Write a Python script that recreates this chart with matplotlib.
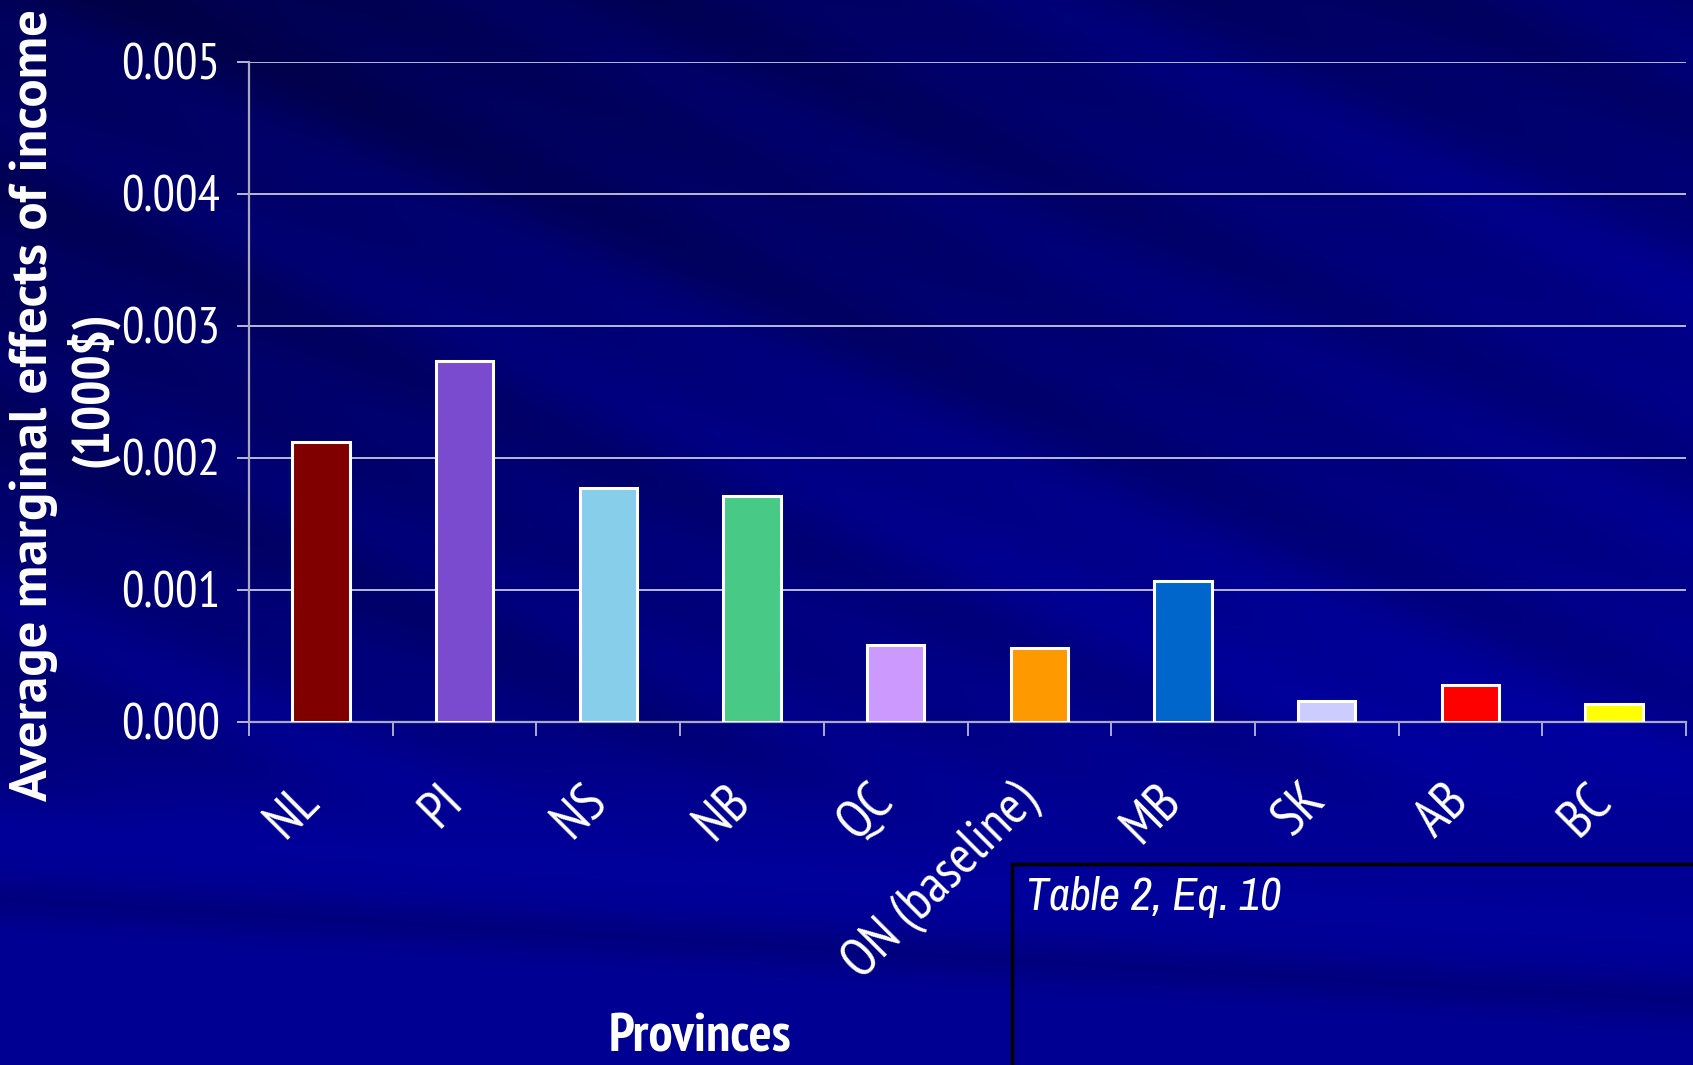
"""
Average marginal effects of income by province (bar chart on a slide-style background)
Output: out.png
"""

import numpy as np
import matplotlib
matplotlib.use('Agg')
import matplotlib.pyplot as plt
from matplotlib import font_manager
from matplotlib.patches import Rectangle

# ── Data ──────────────────────────────────────────────────────────────────────
provinces = ["NL", "PI", "NS", "NB", "QC", "ON (baseline)", "MB", "SK", "AB", "BC"]
effects = [0.00212, 0.00273, 0.00177, 0.00171, 0.00058, 0.00056,
           0.00107, 0.00016, 0.00028, 0.00014]
bar_colors = ["#800000", "#7B4BCF", "#87CEEB", "#48C986", "#CC99FF",
              "#FF9900", "#0066CC", "#CCCCFF", "#FF0000", "#FFFF00"]
y_ticks = [0.000, 0.001, 0.002, 0.003, 0.004, 0.005]

# ── Fonts: a narrow sans like the original slide, if one is installed ────────
_fonts = font_manager.fontManager.ttflist
_names = {f.name for f in _fonts}
_prefs = ["Liberation Sans Narrow", "Arial Narrow", "PT Sans Narrow",
          "Archivo Narrow", "Roboto Condensed", "Liberation Sans"]
NARROW = next(n for n in _prefs if n in _names or n == "Liberation Sans")
WIDE = {"Liberation Sans Narrow": "Liberation Sans", "Arial Narrow": "Arial",
        "PT Sans Narrow": "PT Sans", "Archivo Narrow": "Archivo",
        "Roboto Condensed": "Roboto"}.get(NARROW, "Liberation Sans")
if WIDE not in _names:
    WIDE = "Liberation Sans"
_ital = [n for n in _prefs if any(f.name == n and f.style == "italic" for f in _fonts)]
ITALIC = _ital[0] if _ital else "Liberation Sans"
FONT = [NARROW, "DejaVu Sans"]

# ── Figure ────────────────────────────────────────────────────────────────────
W, H = 1693, 1065
fig = plt.figure(figsize=(W / 100, H / 100), dpi=100)

# background: navy gradient with soft diagonal streaks, flatter bands lower down
bg = fig.add_axes([0, 0, 1, 1], zorder=-10)
yy, xx = np.mgrid[0:1:533j, 0:1:847j]
t = yy * H - 0.45 * xx * W
blue = 0.32 + 0.22 * yy + 0.12 * xx
blue += 0.028 * np.sin(t / 42.0) + 0.020 * np.sin(t / 19.0 + 1.3) + 0.025 * np.sin(t / 83.0 + 0.4)
t2 = yy * H - 0.06 * xx * W
low_col = (0.58 + 0.03 * np.exp(-((t2 - 830) / 30.0) ** 2)
           - 0.08 * np.exp(-((t2 - 900) / 22.0) ** 2))
w = 1.0 / (1.0 + np.exp(-(yy - 0.74) / 0.02))
blue = blue * (1 - w) + low_col * w
blue = np.clip(blue, 0.27, 0.66)
img = np.dstack([np.zeros_like(blue), np.zeros_like(blue), blue])
bg.imshow(img, aspect="auto", extent=[0, 1, 0, 1], interpolation="bilinear")
bg.axis("off")

# ── Bars ──────────────────────────────────────────────────────────────────────
ax = fig.add_axes([249 / W, 1 - 722 / H, (1686 - 249) / W, (722 - 61.5) / H])
ax.set_facecolor("none")
x = np.arange(len(provinces))
ax.bar(x, effects, width=0.4, color=bar_colors, edgecolor="white",
       linewidth=2.2, zorder=3)

ax.set_xlim(-0.5, len(provinces) - 0.5)
ax.set_ylim(0, 0.005)
ax.set_yticks(y_ticks)
ax.set_yticklabels([f"{v:.3f}" for v in y_ticks], family=FONT, fontsize=36, color="white")
ax.yaxis.grid(True, color="#D8D8E8", linewidth=1.2, zorder=1)
ax.set_axisbelow(True)

# category labels, with ticks on the category boundaries
ax.set_xticks(x)
ax.set_xticklabels(provinces, family=FONT, fontsize=39, color="white",
                   rotation=45, ha="right", va="baseline", rotation_mode="anchor")
ax.tick_params(axis="x", which="major", length=0, pad=58)
ax.set_xticks(np.arange(-0.5, len(provinces), 1), minor=True)
ax.tick_params(axis="x", which="minor", length=10, width=1.2, color="#C8C8D8")
ax.tick_params(axis="y", length=9, width=1.2, color="#D8D8E8", pad=12)

for side in ("top", "right"):
    ax.spines[side].set_visible(False)
for side in ("left", "bottom"):
    ax.spines[side].set_color("#A8A8C8")
    ax.spines[side].set_linewidth(1.6)

# ── Axis titles ───────────────────────────────────────────────────────────────
fig.text(34 / W, 1 - 405 / H, "Average marginal effects of income",
         rotation=90, ha="center", va="center",
         family=[WIDE, "DejaVu Sans"], fontsize=38, fontweight="bold", color="white")
fig.text(92 / W, 1 - 389 / H, "(1000$)",
         rotation=90, ha="center", va="center",
         family=FONT, fontsize=38, fontweight="bold", color="white")
fig.text(700 / W, 1 - 1038 / H, "Provinces", ha="center", va="center",
         family=FONT, fontsize=39, fontweight="bold", color="white")

# ── Source box ────────────────────────────────────────────────────────────────
fig.patches.append(Rectangle((1012 / W, -0.01), 1.0, 0.01 + 1 - 864 / H,
                             transform=fig.transFigure, fill=False,
                             edgecolor="black", linewidth=2.5, zorder=5))
fig.text(1026 / W, 1 - 897 / H, "Table 2, Eq. 10", ha="left", va="center",
         family=[ITALIC, "DejaVu Sans"], fontsize=33, style="italic", color="white")

fig.savefig("out.png", dpi=100, facecolor="#000080")
